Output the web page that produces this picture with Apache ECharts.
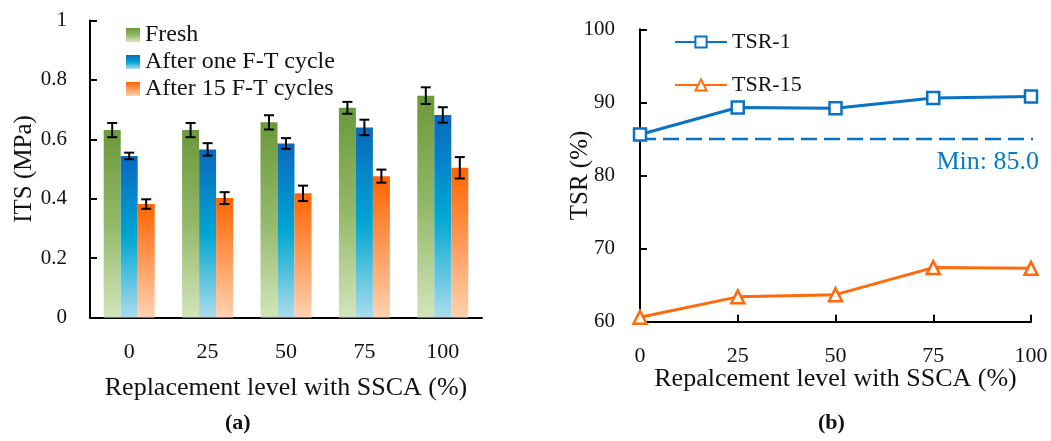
<!DOCTYPE html>
<html>
<head>
<meta charset="utf-8">
<script src="https://cdn.jsdelivr.net/npm/echarts@6/dist/echarts.min.js"></script>
<style>
  html, body { margin: 0; padding: 0; background: #fff; }
  #chart { width: 1051px; height: 441px; }
</style>
</head>
<body>
<div id="chart"></div>
<script>
// Replacement levels of SSCA (%)
const levels = ['0', '25', '50', '75', '100'];
const levelValues = [0, 25, 50, 75, 100];

// (a) Indirect tensile strength, MPa, with error half-widths
const itsFresh = [0.631, 0.631, 0.657, 0.706, 0.747];
const itsFreshErr = [0.024, 0.024, 0.024, 0.020, 0.028];
const itsOneCycle = [0.544, 0.566, 0.586, 0.640, 0.682];
const itsOneCycleErr = [0.011, 0.021, 0.018, 0.026, 0.026];
const its15Cycles = [0.382, 0.402, 0.418, 0.476, 0.504];
const its15CyclesErr = [0.016, 0.020, 0.026, 0.022, 0.036];

// (b) Tensile strength ratio, %
const tsr1 = [85.6, 89.3, 89.2, 90.6, 90.8];
const tsr15 = [60.6, 63.4, 63.7, 67.4, 67.3];
const tsrMin = 85.0;
// horizontal reach of the minimum-requirement line (runs a little past the last level)
const tsrMinSpan = [0, 103];

const FONT = 'Liberation Serif';
const INK = '#111';
const BLUE = '#0a72c4';
const ORANGE = '#ff6a0a';

const grad = (top, mid, bottom) => new echarts.graphic.LinearGradient(0, 0, 0, 1, [
  { offset: 0, color: top }, { offset: 0.5, color: mid }, { offset: 1, color: bottom }
]);
const greenFill = grad('#6a993a', '#94b86a', '#d2e5ba');
const blueFill = grad('#0b68bf', '#00a6d2', '#aadcec');
const orangeFill = grad('#ff6400', '#ff9a58', '#ffd2b2');

const BAR_W = 17;

// Error bars drawn over the grouped bars
function errorSeries(name, means, errs, offset) {
  return {
    type: 'custom',
    name: name + ' error',
    xAxisIndex: 0, yAxisIndex: 0,
    z: 10,
    data: means.map((m, i) => [i, m, errs[i]]),
    renderItem: (params, api) => {
      const i = api.value(0), m = api.value(1), e = api.value(2);
      const hi = api.coord([i, m + e]);
      const lo = api.coord([i, m - e]);
      const x = hi[0] + offset * BAR_W;
      const half = 5;
      const st = { stroke: '#000', lineWidth: 2 };
      return {
        type: 'group',
        children: [
          { type: 'line', shape: { x1: x, y1: hi[1], x2: x, y2: lo[1] }, style: st },
          { type: 'line', shape: { x1: x - half, y1: hi[1], x2: x + half, y2: hi[1] }, style: st },
          { type: 'line', shape: { x1: x - half, y1: lo[1], x2: x + half, y2: lo[1] }, style: st }
        ]
      };
    }
  };
}

const axisLine = { show: true, lineStyle: { color: '#000', width: 2 } };
const axisTick = { show: true, inside: true, length: 7, lineStyle: { color: '#000', width: 2 } };

const chart = echarts.init(document.getElementById('chart'), null, { renderer: 'canvas' });
chart.setOption({
  backgroundColor: '#fff',
  animation: false,
  textStyle: { fontFamily: FONT, color: INK },
  grid: [
    { left: 90, top: 20.5, width: 392, height: 297 },
    { left: 640, top: 29.3, width: 391, height: 292.4 }
  ],
  legend: [
    {
      data: ['Fresh', 'After one F-T cycle', 'After 15 F-T cycles'],
      orient: 'vertical', left: 126, top: 23, itemGap: 3, padding: 0,
      itemWidth: 14, itemHeight: 14, icon: 'rect',
      textStyle: { fontFamily: FONT, fontSize: 24, lineHeight: 24, color: INK }
    },
    {
      data: ['TSR-1', 'TSR-15'],
      orient: 'vertical', left: 674, top: 30, itemGap: 19, padding: 0,
      itemWidth: 52, itemHeight: 14,
      textStyle: { fontFamily: FONT, fontSize: 22, lineHeight: 24, color: INK }
    }
  ],
  xAxis: [
    {
      gridIndex: 0, type: 'category', data: levels,
      axisLine, axisTick: { show: false },
      axisLabel: { fontFamily: FONT, fontSize: 22, color: INK, margin: 24 },
      name: 'Replacement level with SSCA (%)', nameLocation: 'middle', nameGap: 58,
      nameMoveOverlap: false,
      nameTextStyle: { fontFamily: FONT, fontSize: 26, color: INK }
    },
    {
      gridIndex: 1, type: 'value', min: 0, max: 100, interval: 25,
      axisLine, axisTick, splitLine: { show: false },
      axisLabel: { fontFamily: FONT, fontSize: 22, color: INK, margin: 24 },
      name: 'Repalcement level with SSCA (%)', nameLocation: 'middle', nameGap: 44,
      nameMoveOverlap: false,
      nameTextStyle: { fontFamily: FONT, fontSize: 26, color: INK }
    }
  ],
  yAxis: [
    {
      gridIndex: 0, type: 'value', min: 0, max: 1, interval: 0.2,
      axisLine, axisTick, splitLine: { show: false },
      axisLabel: { fontFamily: FONT, fontSize: 21, color: INK, margin: 23, formatter: v => String(+v.toFixed(1)) },
      name: 'ITS (MPa)', nameLocation: 'middle', nameGap: 53,
      nameMoveOverlap: false,
      nameTextStyle: { fontFamily: FONT, fontSize: 25, color: INK }
    },
    {
      gridIndex: 1, type: 'value', min: 60, max: 100, interval: 10,
      axisLine, axisTick, splitLine: { show: false },
      axisLabel: { fontFamily: FONT, fontSize: 21, color: INK, margin: 25 },
      name: 'TSR (%)', nameLocation: 'middle', nameGap: 47,
      nameMoveOverlap: false,
      nameTextStyle: { fontFamily: FONT, fontSize: 25, color: INK }
    }
  ],
  series: [
    { type: 'bar', name: 'Fresh', data: itsFresh, barWidth: BAR_W, barGap: '0%', itemStyle: { color: greenFill } },
    { type: 'bar', name: 'After one F-T cycle', data: itsOneCycle, barWidth: BAR_W, barGap: '0%', itemStyle: { color: blueFill } },
    { type: 'bar', name: 'After 15 F-T cycles', data: its15Cycles, barWidth: BAR_W, barGap: '0%', itemStyle: { color: orangeFill } },
    errorSeries('Fresh', itsFresh, itsFreshErr, -1),
    errorSeries('After one F-T cycle', itsOneCycle, itsOneCycleErr, 0),
    errorSeries('After 15 F-T cycles', its15Cycles, its15CyclesErr, 1),
    {
      // minimum TSR requirement, dashed
      type: 'line', name: 'Min', xAxisIndex: 1, yAxisIndex: 1,
      data: tsrMinSpan.map(x => [x, tsrMin]),
      clip: false, symbol: 'none', silent: true, z: 3,
      lineStyle: { color: BLUE, width: 2.5, type: [16, 7] },
      endLabel: {
        show: true, formatter: 'Min: ' + tsrMin.toFixed(1),
        align: 'right', verticalAlign: 'middle', distance: 0, offset: [6, 23],
        fontFamily: FONT, fontSize: 26, color: '#0a7cc6'
      }
    },
    {
      type: 'line', name: 'TSR-1', xAxisIndex: 1, yAxisIndex: 1,
      data: levelValues.map((x, i) => [x, tsr1[i]]),
      symbol: 'rect', symbolSize: 12, showAllSymbol: true,
      lineStyle: { color: BLUE, width: 3 },
      itemStyle: { color: '#fff', borderColor: BLUE, borderWidth: 2.5 },
      z: 5
    },
    {
      type: 'line', name: 'TSR-15', xAxisIndex: 1, yAxisIndex: 1,
      data: levelValues.map((x, i) => [x, tsr15[i]]),
      symbol: 'triangle', symbolSize: 13, showAllSymbol: true,
      lineStyle: { color: ORANGE, width: 3 },
      itemStyle: { color: '#fff', borderColor: ORANGE, borderWidth: 2.5 },
      z: 5
    }
  ],
  graphic: [
    { type: 'text', left: 225, top: 412, style: { text: '(a)', font: 'bold 22px "Liberation Serif"', fill: INK } },
    { type: 'text', left: 818, top: 412, style: { text: '(b)', font: 'bold 22px "Liberation Serif"', fill: INK } }
  ]
});
</script>
</body>
</html>
